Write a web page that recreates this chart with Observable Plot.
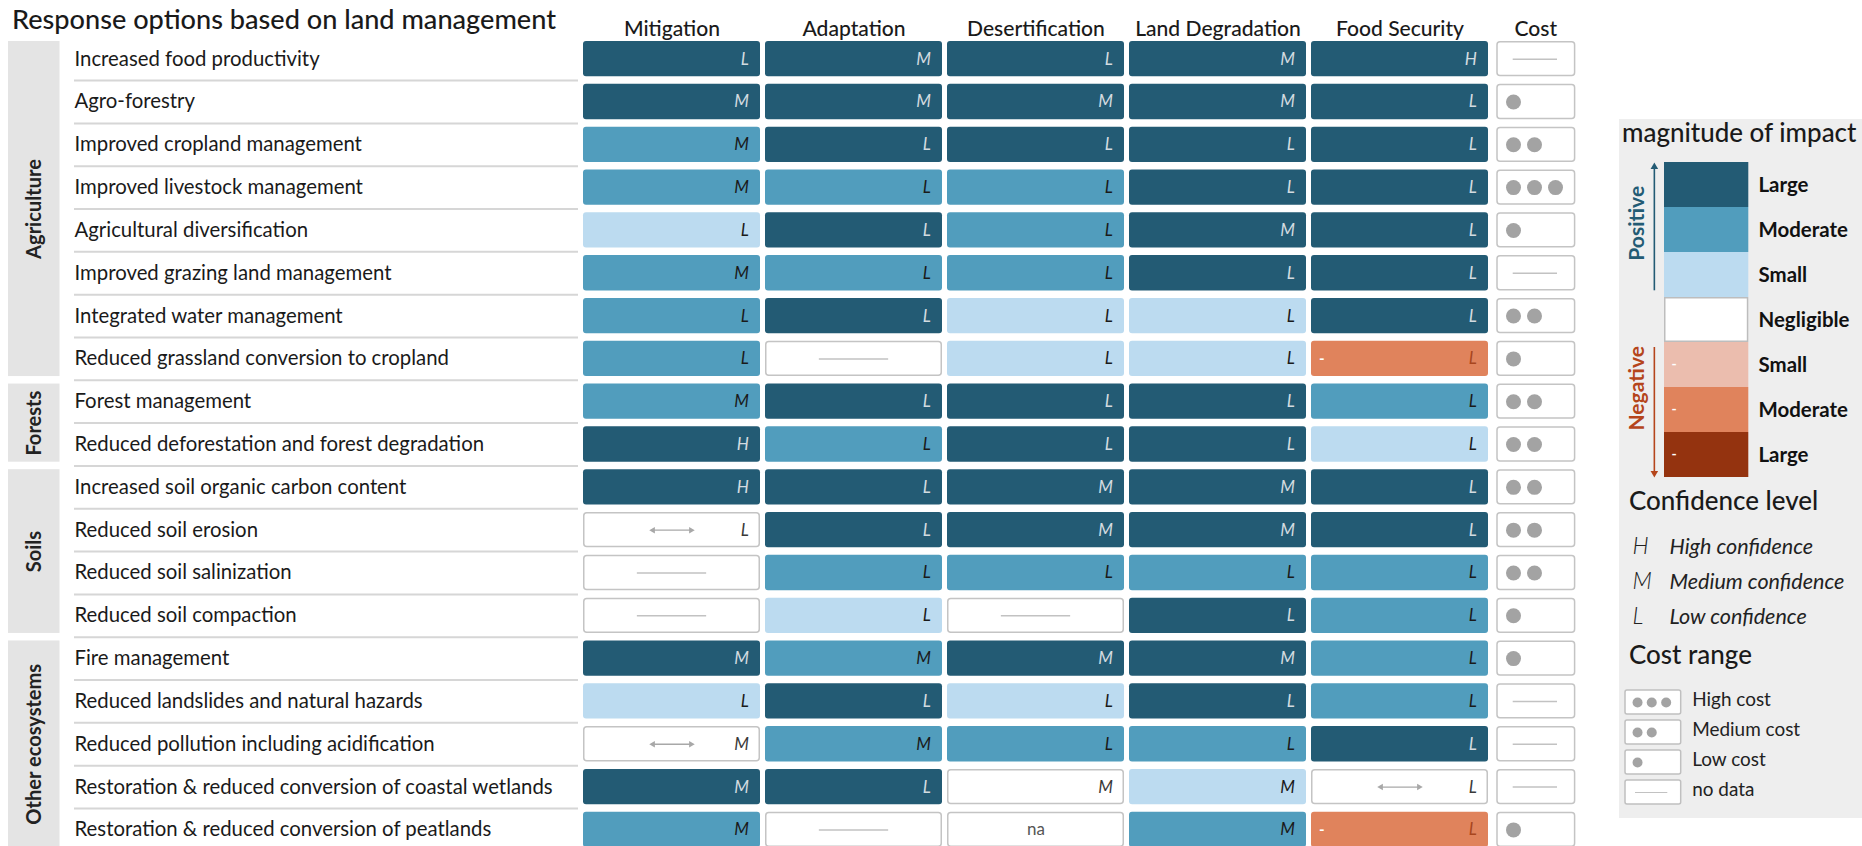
<!DOCTYPE html>
<html>
<head>
<meta charset="utf-8">
<script src="https://cdn.jsdelivr.net/npm/d3@7"></script>
<script src="https://cdn.jsdelivr.net/npm/@observablehq/plot@0.6"></script>
<style>
  html, body { margin: 0; padding: 0; background: #fff; }
  body { width: 1862px; height: 846px; overflow: hidden; font-family: Lato, "Noto Sans", sans-serif; color: #1a1a1a; }
  #chart { position: relative; width: 1862px; height: 846px; }
  .abs { position: absolute; }
  #title { z-index: 3; white-space: nowrap; line-height: 1; font-weight: 500; }
  #legend { background: #eeeeee; }
  .lh { position: absolute; white-space: nowrap; line-height: 1; font-weight: 500; color: #1a1a1a; z-index: 3; }
  svg { overflow: visible; }
</style>
</head>
<body>
<div id="chart">
  <div id="title" class="abs">Response options based on land management</div>
  <div id="groups" class="abs" style="left:0;top:0;width:66px;height:846px"></div>
  <div id="labels" class="abs" style="left:66px;top:0;width:512px;height:846px"></div>
  <div id="matrix" class="abs" style="left:578px;top:0;width:1008px;height:846px"></div>
  <div id="legend" class="abs" style="left:1619px;top:119px;width:243px;height:699px">
    <div id="legMag" class="abs" style="left:0;top:0;width:243px;height:699px"></div>
    <div id="legConf" class="abs" style="left:0;top:0;width:243px;height:699px"></div>
    <div id="legCost" class="abs" style="left:0;top:0;width:243px;height:699px"></div>
    <div id="hMag" class="lh">magnitude of impact</div>
    <div id="hConf" class="lh">Confidence level</div>
    <div id="hCost" class="lh">Cost range</div>
  </div>
</div>
<script>
// ---------------- DATA ----------------
const groupNames = ["Agriculture", "Forests", "Soils", "Other ecosystems"];
const groupSizes = [8, 2, 4, 5];
const options = [
  "Increased food productivity",
  "Agro-forestry",
  "Improved cropland management",
  "Improved livestock management",
  "Agricultural diversification",
  "Improved grazing land management",
  "Integrated water management",
  "Reduced grassland conversion to cropland",
  "Forest management",
  "Reduced deforestation and forest degradation",
  "Increased soil organic carbon content",
  "Reduced soil erosion",
  "Reduced soil salinization",
  "Reduced soil compaction",
  "Fire management",
  "Reduced landslides and natural hazards",
  "Reduced pollution including acidification",
  "Restoration & reduced conversion of coastal wetlands",
  "Restoration & reduced conversion of peatlands"
];
const columns = ["Mitigation", "Adaptation", "Desertification", "Land Degradation", "Food Security"];
const costColumn = "Cost";
// impact: 3 large, 2 moderate, 1 small (positive); 0 negligible; -1,-2,-3 negative
// null = no data, "±" = both directions, "na" = not applicable
const mitigation      = [3, 3, 2, 2, 1, 2, 2, 2, 2, 3, 3, "±", null, null, 3, 1, "±", 3, 2];
const mitigationConf  = ["L","M","M","M","L","M","L","L","M","H","H","L","","","M","L","M","M","M"];
const adaptation      = [3, 3, 3, 2, 3, 2, 3, null, 3, 2, 3, 3, 2, 1, 2, 3, 2, 3, null];
const adaptationConf  = ["M","M","L","L","L","L","L","","L","L","L","L","L","L","M","L","M","L",""];
const desertification = [3, 3, 3, 2, 2, 2, 1, 1, 3, 3, 3, 3, 2, null, 3, 1, 2, 0, "na"];
const desertificationConf = ["L","M","L","L","L","L","L","L","L","L","M","M","L","","M","L","L","M",""];
const landDegradation = [3, 3, 3, 3, 3, 3, 1, 1, 3, 3, 3, 3, 2, 3, 3, 3, 2, 1, 2];
const landDegradationConf = ["M","M","L","L","M","L","L","L","L","L","M","M","L","L","M","L","L","M","M"];
const foodSecurity    = [3, 3, 3, 3, 3, 3, 3, -2, 2, 1, 3, 3, 2, 2, 2, 2, 3, "±", -2];
const foodSecurityConf = ["H","L","L","L","L","L","L","L","L","L","L","L","L","L","L","L","L","L","L"];
// cost: number of dots, null = no data
const cost = [null, 1, 2, 3, 1, null, 2, 1, 2, 2, 2, 2, 2, 1, 1, null, null, null, 1];

const magnitudeLabels = ["Large", "Moderate", "Small", "Negligible", "Small", "Moderate", "Large"];
const magnitudeLevels = [3, 2, 1, 0, -1, -2, -3];
const directionNames = ["Positive", "Negative"];
const confidenceKeys = ["H", "M", "L"];
const confidenceLabels = ["High confidence", "Medium confidence", "Low confidence"];
const costLegendLabels = ["High cost", "Medium cost", "Low cost", "no data"];
const costLegendLevels = [3, 2, 1, null];

// ---------------- STYLE ----------------
const FONT = "Lato, 'Noto Sans', sans-serif";
const FILL = {"3": "#235b74", "2": "#519dbd", "1": "#bcdbf0", "0": "#ffffff", "-1": "#ebbdae", "-2": "#e0835c", "-3": "#94330f"};
const POS = "#235b74", NEG = "#b5451b";
const ctx = document.createElement("canvas").getContext("2d");
function fit(text, target, weight = 400, style = "normal") {
  ctx.font = `${style} ${weight} 100px Lato`;
  return +(100 * target / ctx.measureText(text).width).toFixed(2);
}
const titleSize = fit("Response options based on land management", 544, 500);
const headerSize = fit("Food Security", 128, 500);
const labelSize = fit("Restoration & reduced conversion of coastal wetlands", 479, 400);
const groupSize = fit("Forests", 65, 700);
const legendHeadSize = fit("magnitude of impact", 235, 500);
const legendLabelSize = fit("Negligible", 91, 700);
const dirSize = fit("Positive", 75, 700);
const confSize = fit("Medium confidence", 175, 400, "italic");
const costLabelSize = fit("Medium cost", 108, 400);
const plotStyle = {background: "transparent", fontFamily: FONT, overflow: "visible"};

// ---------------- DERIVED TABLES ----------------
const levelsByCol = [mitigation, adaptation, desertification, landDegradation, foodSecurity];
const confByCol = [mitigationConf, adaptationConf, desertificationConf, landDegradationConf, foodSecurityConf];
const cells = [];
columns.forEach((col, c) => options.forEach((opt, i) => cells.push({col, i, option: opt, level: levelsByCol[c][i], conf: confByCol[c][i]})));
const isColored = d => typeof d.level === "number" && d.level !== 0;
const letterColor = d => d.level === 3 ? "#d3dbe0" : d.level === -3 ? "#f3d3c6" : (d.level === -2 || d.level === -1) ? "#a8461e" : isColored(d) ? "#1a1a1a" : "#3a3a3a";
const costRows = options.map((option, i) => ({option, i, col: costColumn, cost: cost[i]}));
let acc = 0;
const groupRows = groupNames.map((group, k) => { const r = {group, start: acc, end: acc + groupSizes[k]}; acc += groupSizes[k]; return r; });

const yRows = {type: "linear", domain: [0, options.length], range: [37.25, 850.8], axis: null};
const IN = 3.75; // half of the gap between rows

// ---------------- GROUP BARS ----------------
document.getElementById("groups").append(Plot.plot({
  width: 66, height: 846, marginLeft: 8, marginRight: 6.5, marginTop: 0, marginBottom: 0,
  style: plotStyle, y: yRows,
  marks: [
    Plot.rect(groupRows, {y1: "start", y2: "end", insetTop: IN, insetBottom: IN, fill: "#e4e4e4"}),
    Plot.text(groupRows, {y: d => (d.start + d.end) / 2, text: "group", rotate: -90, fontSize: groupSize, fontWeight: 700, fill: "#222"})
  ]
}));

// ---------------- ROW LABELS ----------------
document.getElementById("labels").append(Plot.plot({
  width: 512, height: 846, marginLeft: 8, marginRight: 0, marginTop: 0, marginBottom: 0,
  style: plotStyle, y: yRows,
  marks: [
    Plot.ruleY(d3.range(1, options.length), {stroke: "#d6d6d6", strokeWidth: 2}),
    Plot.text(options, {y: (d, i) => i + 0.5, text: d => d, frameAnchor: "left", textAnchor: "start", fontSize: labelSize, fill: "#1a1a1a"})
  ]
}));

// ---------------- MATRIX ----------------
const BW2 = 88.85; // half band width
document.getElementById("matrix").append(Plot.plot({
  width: 1008, height: 846, marginLeft: 0, marginRight: 0, marginTop: 37, marginBottom: 0,
  style: plotStyle,
  x: {type: "band", domain: [...columns, costColumn], range: [-3.2, 1100.1], padding: 0.029, axis: null},
  y: yRows,
  color: {type: "identity"},
  marks: [
    Plot.text(columns, {x: d => d, text: d => d, frameAnchor: "top", dy: -16.5, fontSize: headerSize, fontWeight: 500, fill: "#1a1a1a"}),
    Plot.text([costColumn], {x: d => d, text: d => d, frameAnchor: "top", dy: -16.5, dx: -46.2, fontSize: headerSize, fontWeight: 500, fill: "#1a1a1a"}),
    Plot.barY(cells.filter(isColored), {x: "col", y1: "i", y2: d => d.i + 1, insetTop: IN, insetBottom: IN, rx: 3, fill: d => FILL[d.level]}),
    Plot.barY(cells.filter(d => !isColored(d)), {x: "col", y1: "i", y2: d => d.i + 1, insetTop: IN + 0.75, insetBottom: IN + 0.75, insetLeft: 0.75, insetRight: 0.75, rx: 3, fill: "white", stroke: "#c4c4c4", strokeWidth: 1.5}),
    Plot.tickY(cells.filter(d => d.level === null), {x: "col", y: d => d.i + 0.5, insetLeft: 53.85, insetRight: 53.85, stroke: "#c2c2c2", strokeWidth: 1.5}),
    Plot.tickY(cells.filter(d => d.level === "±"), {x: "col", y: d => d.i + 0.5, insetLeft: 68, insetRight: 68, stroke: "#a8a8a8", strokeWidth: 1.3}),
    Plot.dot(cells.filter(d => d.level === "±"), {x: "col", y: d => d.i + 0.5, symbol: "triangle", rotate: 90, r: 2.4, fill: "#a8a8a8", dx: 19}),
    Plot.dot(cells.filter(d => d.level === "±"), {x: "col", y: d => d.i + 0.5, symbol: "triangle", rotate: -90, r: 2.4, fill: "#a8a8a8", dx: -19}),
    Plot.text(cells.filter(d => d.level === "na"), {x: "col", y: d => d.i + 0.5, text: () => "na", fontSize: 17, fill: "#555"}),
    Plot.text(cells.filter(d => typeof d.level === "number" && d.level < 0), {x: "col", y: d => d.i + 0.5, text: () => "-", textAnchor: "start", dx: -81, fontSize: 15, fontWeight: 700, fill: "white"}),
    Plot.text(cells.filter(d => d.conf), {x: "col", y: d => d.i + 0.5, text: "conf", textAnchor: "end", dx: BW2 - 12, fontSize: 17, fontStyle: "italic", fill: letterColor}),
    // cost column
    Plot.barY(costRows, {x: "col", y1: "i", y2: d => d.i + 1, insetTop: IN + 0.75, insetBottom: IN + 0.75, insetLeft: 4, insetRight: 95.4, rx: 3, fill: "white", stroke: "#c4c4c4", strokeWidth: 1.5}),
    Plot.dot(costRows.filter(d => d.cost >= 1), {x: "col", y: d => d.i + 0.5, r: 7.5, fill: "#a3a3a3", dx: -68.5}),
    Plot.dot(costRows.filter(d => d.cost >= 2), {x: "col", y: d => d.i + 0.5, r: 7.5, fill: "#a3a3a3", dx: -47.5}),
    Plot.dot(costRows.filter(d => d.cost >= 3), {x: "col", y: d => d.i + 0.5, r: 7.5, fill: "#a3a3a3", dx: -26.5}),
    Plot.tickY(costRows.filter(d => d.cost === null), {x: "col", y: d => d.i + 0.5, insetLeft: 19.7, insetRight: 113, stroke: "#c2c2c2", strokeWidth: 1.5})
  ]
}));

// ---------------- LEGEND ----------------
const magnitude = magnitudeLevels.map((level, k) => ({key: "m" + k, label: magnitudeLabels[k], level, fill: FILL[String(level)]}));
const directions = directionNames.map((name, k) => ({name, from: k === 0 ? "m0" : "m4", to: k === 0 ? "m2" : "m6", mid: k === 0 ? "m1" : "m4", color: k === 0 ? POS : NEG, lane: "arrow"}));
document.getElementById("legMag").append(Plot.plot({
  width: 243, height: 699, marginLeft: 45, marginRight: 113.7, marginTop: 0, marginBottom: 0,
  style: plotStyle, color: {type: "identity"},
  x: {type: "point", domain: ["arrow"], axis: null},
  y: {type: "band", domain: magnitude.map(d => d.key), range: [42.7, 357.7], padding: 0, axis: null},
  marks: [
    Plot.cell(magnitude.filter(d => d.level !== 0), {y: "key", fill: "fill"}),
    Plot.cell(magnitude.filter(d => d.level === 0), {y: "key", fill: "white", stroke: "#bdbdbd", strokeWidth: 1.5, inset: 0.75}),
    Plot.text(magnitude, {y: "key", text: "label", frameAnchor: "right", dx: 9.7, textAnchor: "start", fontSize: legendLabelSize, fontWeight: 700, fill: "#111"}),
    Plot.text(magnitude.filter(d => d.level < 0), {y: "key", text: () => "-", frameAnchor: "left", dx: 7, textAnchor: "start", fontSize: 14, fontWeight: 700, fill: "white"}),
    Plot.ruleX(directions.slice(0, 1), {x: "lane", y1: "from", y2: "to", insetTop: 4, insetBottom: 6.7, dx: -52.15, stroke: "color", strokeWidth: 1.6}),
    Plot.ruleX(directions.slice(1), {x: "lane", y1: "from", y2: "to", insetTop: 5, insetBottom: 4, dx: -52.15, stroke: "color", strokeWidth: 1.6}),
    Plot.dot(directions.slice(0, 1), {x: "lane", y: "from", symbol: "triangle", r: 2.8, fill: "color", dx: -52.15, dy: -18.2}),
    Plot.dot(directions.slice(1), {x: "lane", y: "to", symbol: "triangle", rotate: 180, r: 2.8, fill: "color", dx: -52.15, dy: 18.2}),
    Plot.text(directions.slice(0, 1), {x: "lane", y: "mid", text: "name", rotate: -90, dx: -69.5, dy: -6.7, fontSize: dirSize, fontWeight: 700, fill: "color"}),
    Plot.text(directions.slice(1), {x: "lane", y: "mid", text: "name", rotate: -90, dx: -69.5, dy: 23.3, fontSize: dirSize, fontWeight: 700, fill: "color"})
  ]
}));

const confidence = confidenceKeys.map((key, j) => ({key, label: confidenceLabels[j]}));
document.getElementById("legConf").append(Plot.plot({
  width: 243, height: 699, marginLeft: 13, marginRight: 0, marginTop: 0, marginBottom: 0,
  style: plotStyle,
  y: {type: "band", domain: confidenceKeys, range: [410.2, 515.2], padding: 0, axis: null},
  marks: [
    Plot.text(confidence, {y: "key", text: "key", frameAnchor: "left", textAnchor: "start", fontSize: 23, fontStyle: "italic", fontWeight: 300, fill: "#222"}),
    Plot.text(confidence, {y: "key", text: "label", frameAnchor: "left", dx: 37, textAnchor: "start", fontSize: confSize, fontStyle: "italic", fill: "#222"})
  ]
}));

const costLegend = costLegendLabels.map((label, j) => ({label, cost: costLegendLevels[j]}));
document.getElementById("legCost").append(Plot.plot({
  width: 243, height: 699, marginLeft: 6, marginRight: 181.3, marginTop: 0, marginBottom: 0,
  style: plotStyle,
  y: {type: "band", domain: costLegendLabels, range: [564.9, 691.6], padding: 0.2, axis: null},
  marks: [
    Plot.cell(costLegend, {y: "label", fill: "white", stroke: "#c0c0c0", strokeWidth: 1.5, rx: 2}),
    Plot.dot(costLegend.filter(d => d.cost >= 1), {y: "label", r: 5, fill: "#a3a3a3", dx: -15.8}),
    Plot.dot(costLegend.filter(d => d.cost >= 2), {y: "label", r: 5, fill: "#a3a3a3", dx: -1.6}),
    Plot.dot(costLegend.filter(d => d.cost >= 3), {y: "label", r: 5, fill: "#a3a3a3", dx: 12.8}),
    Plot.tickY(costLegend.filter(d => d.cost === null), {y: "label", insetLeft: 10, insetRight: 13.4, stroke: "#c2c2c2", strokeWidth: 1.2}),
    Plot.text(costLegend, {y: "label", text: "label", frameAnchor: "right", dx: 11, dy: -2.5, textAnchor: "start", fontSize: costLabelSize, fill: "#222"})
  ]
}));

// ---------------- HEADINGS (HTML text) ----------------
function placeHeading(el, left, centerY, size) {
  el.style.fontSize = size + "px";
  el.style.left = left + "px";
  el.style.top = (centerY - 0.587 * size) + "px";
}
placeHeading(document.getElementById("title"), 12, 20.5, titleSize);
placeHeading(document.getElementById("hMag"), 3, 16, legendHeadSize);
placeHeading(document.getElementById("hConf"), 10, 384, legendHeadSize);
placeHeading(document.getElementById("hCost"), 10, 538.7, legendHeadSize);
</script>
</body>
</html>
